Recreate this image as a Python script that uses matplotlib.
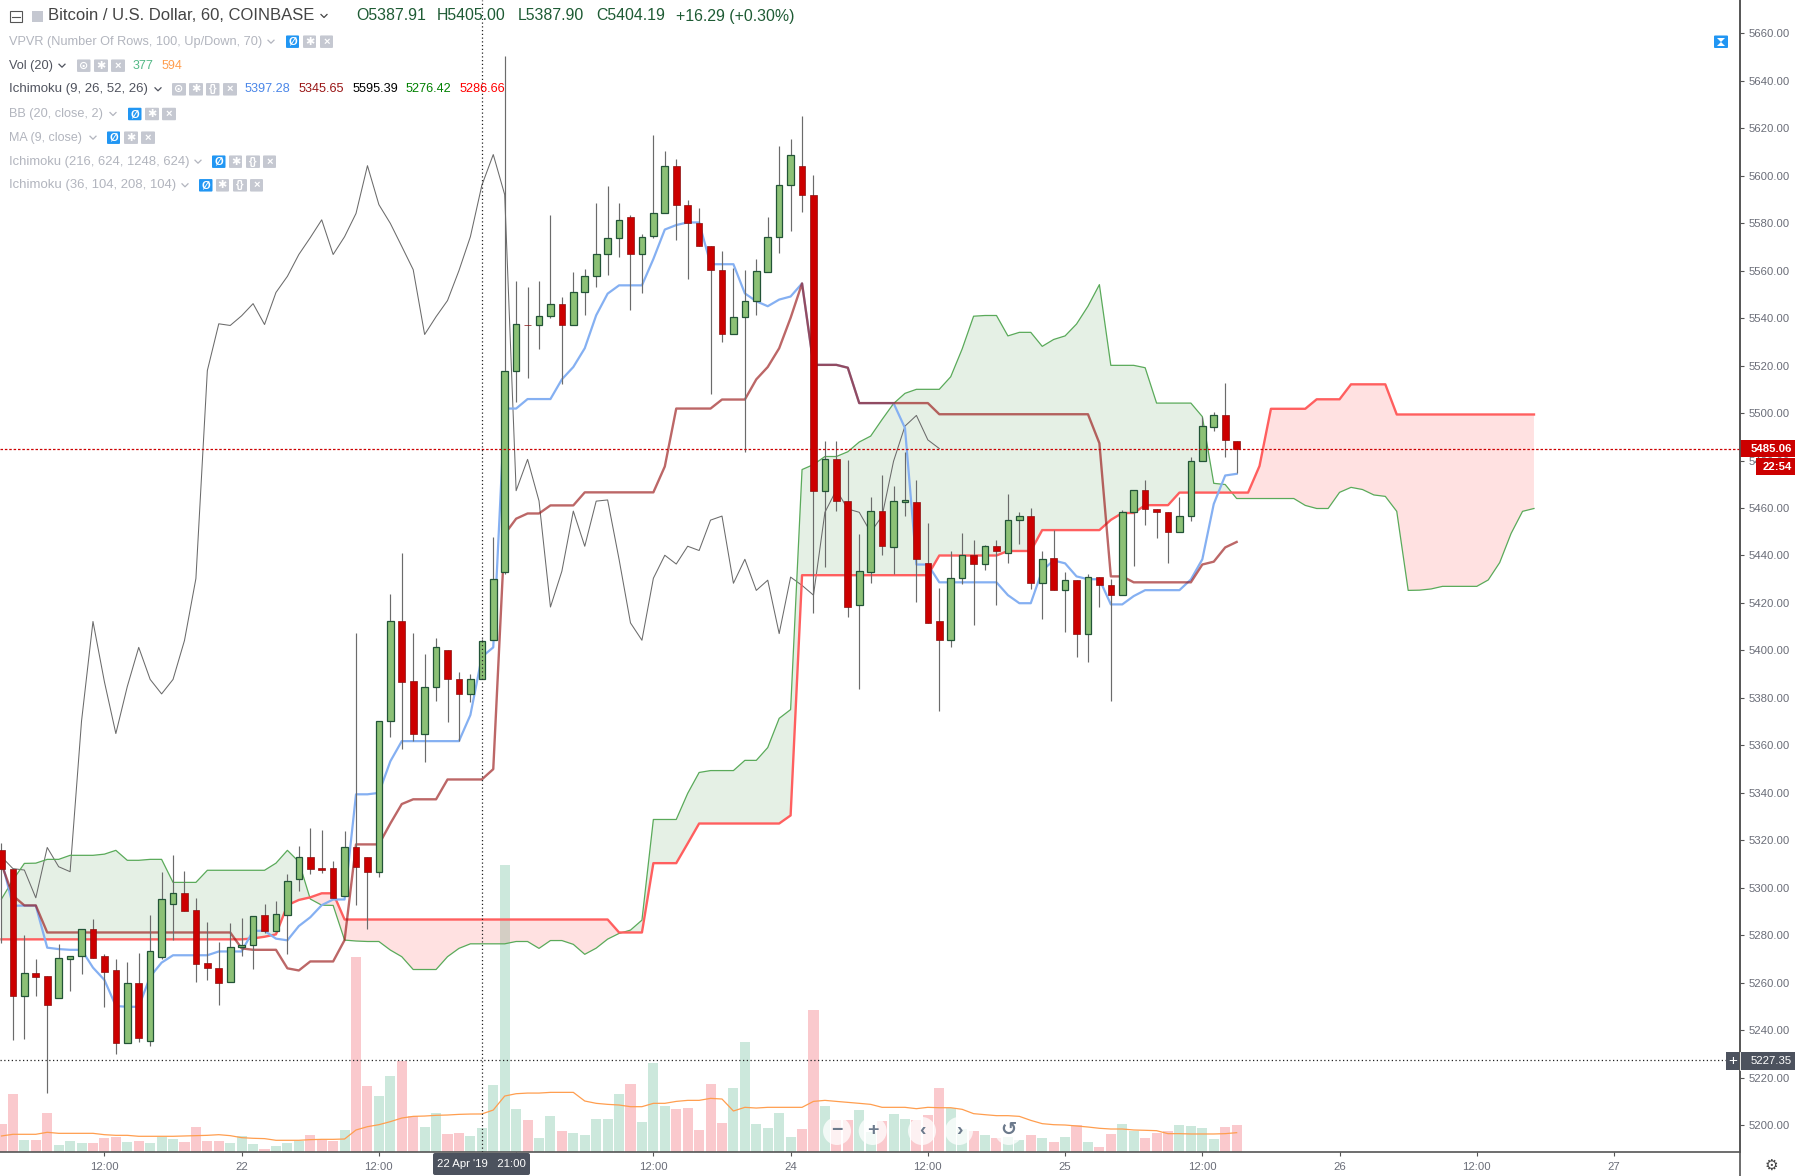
import matplotlib
matplotlib.use("Agg")
import matplotlib.pyplot as plt
import numpy as np
from matplotlib.patches import FancyBboxPatch, Rectangle, Ellipse

plt.rcParams['font.family'] = ['Liberation Sans', 'DejaVu Sans']

# hours since 22 Apr 00:00, one candle per hour
first_hour = -21

opens = [5315.9, 5307.8, 5254.6, 5264.0, 5262.7, 5253.7, 5270.1, 5271.4, 5282.5, 5271.1,
         5265.6, 5234.8, 5259.8, 5235.6, 5271.0, 5293.4, 5297.7, 5290.5, 5268.2, 5266.1,
         5260.2, 5274.9, 5276.0, 5288.4, 5281.9, 5288.7, 5303.8, 5313.2, 5308.2, 5308.2,
         5296.7, 5317.0, 5313.2, 5306.8, 5370.1, 5412.2, 5387.0, 5365.0, 5384.8, 5400.4,
         5387.8, 5381.7, 5387.91, 5404.2, 5432.9, 5517.9, 5537.2, 5536.9, 5541.0, 5546.1,
         5537.3, 5550.8, 5557.6, 5566.8, 5573.9, 5582.4, 5566.8, 5574.7, 5584.1, 5604.2,
         5587.8, 5579.9, 5570.2, 5560.4, 5533.1, 5540.6, 5547.0, 5559.3, 5574.3, 5595.9,
         5604.2, 5592.0, 5467.3, 5480.5, 5462.9, 5419.1, 5432.9, 5458.7, 5443.4, 5462.7,
         5462.4, 5436.8, 5412.5, 5404.3, 5430.4, 5440.1, 5436.4, 5443.9, 5441.1, 5454.9,
         5456.6, 5428.3, 5438.9, 5425.3, 5429.6, 5407.1, 5430.9, 5427.4, 5423.3, 5458.2,
         5467.6, 5459.6, 5458.2, 5449.8, 5456.6, 5479.7, 5494.0, 5499.0, 5488.2]
highs = [5318.7, 5307.8, 5280.1, 5270.0, 5262.7, 5276.3, 5271.5, 5282.5, 5286.9, 5272.1,
         5270.0, 5268.7, 5272.7, 5288.5, 5306.5, 5313.8, 5307.1, 5295.7, 5285.6, 5277.0,
         5285.0, 5287.3, 5288.3, 5293.4, 5294.3, 5305.7, 5317.6, 5325.2, 5324.3, 5311.3,
         5323.8, 5407.5, 5313.2, 5370.3, 5423.7, 5441.0, 5407.5, 5398.7, 5405.1, 5400.4,
         5391.0, 5390.0, 5405.0, 5447.9, 5650.5, 5555.7, 5553.1, 5555.7, 5583.3, 5548.9,
         5559.4, 5560.6, 5588.4, 5595.5, 5588.4, 5583.3, 5575.4, 5617.2, 5610.4, 5607.0,
         5589.7, 5586.3, 5570.2, 5568.3, 5561.1, 5560.2, 5564.9, 5582.8, 5612.5, 5615.5,
         5625.1, 5600.2, 5488.4, 5488.4, 5480.4, 5449.0, 5464.5, 5474.0, 5469.2, 5483.7,
         5472.0, 5453.7, 5426.3, 5441.8, 5449.6, 5446.6, 5444.6, 5446.6, 5466.1, 5458.4,
         5460.0, 5441.9, 5450.7, 5433.1, 5429.6, 5432.1, 5430.9, 5430.1, 5459.1, 5467.6,
         5472.0, 5459.6, 5458.2, 5464.5, 5481.6, 5498.2, 5500.4, 5512.7, 5488.2]
lows = [5276.6, 5235.9, 5236.4, 5254.4, 5213.7, 5253.7, 5256.7, 5263.7, 5270.6, 5249.9,
        5230.0, 5234.8, 5235.2, 5233.4, 5270.1, 5278.0, 5290.4, 5260.5, 5261.2, 5250.6,
        5260.2, 5271.4, 5265.8, 5281.1, 5281.9, 5272.1, 5298.6, 5305.8, 5306.4, 5295.8,
        5296.7, 5292.7, 5282.6, 5304.7, 5363.7, 5358.6, 5361.8, 5353.0, 5378.9, 5369.9,
        5361.8, 5378.4, 5387.9, 5404.2, 5432.0, 5504.7, 5514.7, 5526.9, 5540.1, 5512.3,
        5537.3, 5541.2, 5553.2, 5558.1, 5565.7, 5543.5, 5550.6, 5573.9, 5584.1, 5572.8,
        5556.4, 5570.2, 5508.1, 5530.1, 5533.1, 5483.7, 5541.2, 5559.3, 5567.3, 5576.7,
        5584.8, 5415.6, 5435.2, 5458.7, 5414.3, 5383.8, 5428.3, 5440.4, 5432.4, 5456.7,
        5420.4, 5411.6, 5374.3, 5401.3, 5427.8, 5410.8, 5434.1, 5419.3, 5436.8, 5445.0,
        5425.8, 5413.3, 5425.3, 5407.6, 5397.1, 5395.0, 5418.4, 5378.8, 5423.3, 5435.4,
        5452.9, 5447.3, 5436.8, 5449.8, 5454.6, 5479.7, 5492.4, 5481.7, 5474.6]
closes = [5307.8, 5254.6, 5264.0, 5262.6, 5250.8, 5270.3, 5271.5, 5282.5, 5270.6, 5264.7,
          5234.8, 5259.8, 5236.9, 5273.6, 5295.1, 5297.7, 5290.4, 5268.0, 5266.4, 5260.0,
          5274.9, 5276.0, 5288.3, 5281.9, 5288.8, 5302.7, 5313.1, 5308.1, 5307.5, 5295.8,
          5317.0, 5308.9, 5306.8, 5370.3, 5412.2, 5386.8, 5365.0, 5384.8, 5401.3, 5387.8,
          5381.7, 5387.8, 5404.19, 5430.3, 5517.9, 5537.6, 5536.9, 5541.0, 5546.1, 5537.3,
          5550.8, 5557.6, 5566.8, 5573.9, 5581.4, 5566.8, 5574.3, 5584.1, 5604.2, 5587.8,
          5579.9, 5570.2, 5560.4, 5533.1, 5540.6, 5547.4, 5560.0, 5574.3, 5595.9, 5608.9,
          5592.0, 5467.3, 5480.5, 5463.0, 5418.3, 5433.4, 5458.7, 5443.9, 5462.9, 5463.4,
          5438.4, 5411.6, 5404.3, 5430.4, 5440.1, 5436.4, 5443.9, 5442.1, 5454.9, 5456.6,
          5428.3, 5438.4, 5425.3, 5429.6, 5407.1, 5430.9, 5427.4, 5423.3, 5458.2, 5467.6,
          5459.6, 5458.2, 5449.8, 5456.6, 5479.7, 5494.5, 5499.0, 5488.7, 5485.06]

volumes = [439, 903, 191, 191, 609, 114, 175, 144, 144, 217,
           237, 160, 175, 144, 237, 206, 160, 392, 175, 175,
           144, 253, 129, 52, 98, 144, 175, 268, 191, 175,
           346, 3024, 1027, 872, 1182, 1414, 562, 392, 609, 284,
           299, 253, 377, 1042, 4448, 671, 501, 222, 562, 330,
           299, 268, 516, 516, 903, 1058, 470, 1383, 717, 671,
           686, 346, 1058, 454, 996, 1708, 439, 377, 609, 237,
           361, 2203, 717, 500, 500, 655, 320, 485, 593, 516,
           500, 578, 991, 686, 366, 325, 263, 217, 237, 186,
           263, 217, 155, 232, 418, 155, 77, 279, 433, 325,
           217, 294, 325, 418, 402, 372, 201, 387, 418]
volume_ma = [253, 279, 279, 279, 310, 294, 294, 294, 294, 273,
             263, 263, 248, 248, 248, 248, 253, 258, 263, 273,
             258, 227, 217, 212, 186, 186, 186, 196, 201, 201,
             206, 346, 397, 428, 475, 531, 557, 562, 573, 578,
             588, 593, 594, 655, 872, 908, 918, 918, 929, 929,
             929, 795, 759, 743, 733, 707, 707, 759, 759, 789,
             805, 805, 836, 826, 640, 697, 686, 697, 697, 697,
             697, 789, 805, 789, 774, 759, 743, 697, 697, 697,
             676, 697, 691, 691, 666, 599, 583, 568, 568, 557,
             495, 444, 428, 423, 408, 392, 372, 361, 361, 346,
             341, 335, 289, 289, 284, 284, 284, 289, 304]

tenkan = [5311.7, 5292.5, 5292.5, 5292.5, 5274.8, 5274.2, 5273.9, 5273.9, 5266.4, 5261.2,
          5250.2, 5249.9, 5249.9, 5262.6, 5268.5, 5271.6, 5271.6, 5271.6, 5271.6, 5273.2,
          5273.2, 5273.2, 5281.9, 5281.9, 5278.6, 5277.9, 5283.9, 5287.6, 5292.7, 5295.1,
          5295.1, 5339.4, 5339.4, 5340.0, 5353.3, 5361.8, 5361.8, 5361.8, 5361.8, 5361.8,
          5361.8, 5372.8, 5397.28, 5401.3, 5501.9, 5501.9, 5505.9, 5505.9, 5505.9, 5514.2,
          5519.4, 5527.3, 5541.2, 5550.3, 5553.8, 5553.8, 5553.8, 5564.9, 5577.3, 5579.2,
          5580.3, 5580.3, 5562.7, 5562.7, 5562.7, 5550.4, 5547.1, 5545.0, 5547.8, 5549.1,
          5554.6, 5520.3, 5520.3, 5520.3, 5519.1, 5504.2, 5504.2, 5504.2, 5504.2, 5493.7,
          5436.2, 5436.2, 5428.7, 5428.7, 5428.7, 5428.7, 5428.7, 5428.7, 5423.3, 5419.9,
          5419.9, 5433.7, 5437.9, 5436.7, 5431.2, 5430.0, 5430.0, 5419.4, 5419.4, 5422.9,
          5425.4, 5425.4, 5425.4, 5425.4, 5429.9, 5438.4, 5461.7, 5473.7, 5474.4]
kijun = [5310.0, 5296.7, 5292.6, 5292.6, 5281.2, 5281.2, 5281.2, 5281.2, 5281.2, 5281.2,
         5281.2, 5281.2, 5281.2, 5281.2, 5281.2, 5281.2, 5281.2, 5281.2, 5281.2, 5281.2,
         5281.2, 5274.5, 5273.9, 5273.9, 5273.9, 5266.1, 5265.2, 5269.0, 5269.0, 5269.0,
         5278.0, 5318.3, 5318.3, 5318.3, 5327.1, 5335.3, 5337.3, 5337.3, 5337.3, 5345.65,
         5345.65, 5345.65, 5345.65, 5350.0, 5449.0, 5455.5, 5457.7, 5457.7, 5461.1, 5461.1,
         5461.1, 5466.6, 5466.6, 5466.6, 5466.6, 5466.6, 5466.6, 5466.6, 5477.5, 5501.9,
         5501.9, 5501.9, 5501.9, 5505.7, 5505.7, 5505.7, 5514.2, 5519.4, 5527.3, 5540.1,
         5554.6, 5520.3, 5520.3, 5520.3, 5519.1, 5504.2, 5504.2, 5504.2, 5504.2, 5504.2,
         5504.2, 5504.2, 5499.5, 5499.5, 5499.5, 5499.5, 5499.5, 5499.5, 5499.5, 5499.5,
         5499.5, 5499.5, 5499.5, 5499.5, 5499.5, 5499.5, 5487.3, 5431.2, 5431.2, 5428.7,
         5428.7, 5428.7, 5428.7, 5428.7, 5428.7, 5436.2, 5437.4, 5443.4, 5445.7]

# both cloud lines run 26 hours past the last candle
senkou_a = [5295.3, 5303.3, 5310.3, 5310.4, 5312.0, 5312.0, 5313.7, 5313.7, 5313.7, 5314.2,
            5315.8, 5311.6, 5311.6, 5312.0, 5312.0, 5302.3, 5302.3, 5302.3, 5307.4, 5307.4,
            5307.4, 5307.4, 5307.4, 5307.4, 5310.4, 5315.8, 5311.0, 5295.3, 5292.7, 5292.6,
            5278.0, 5277.6, 5277.4, 5277.4, 5273.8, 5271.0, 5265.6, 5265.6, 5265.6, 5271.0,
            5274.5, 5276.42, 5276.42, 5276.42, 5276.42, 5277.4, 5277.4, 5274.5, 5277.8, 5277.8,
            5276.2, 5272.0, 5274.6, 5278.4, 5280.8, 5282.2, 5286.4, 5328.8, 5328.8, 5328.8,
            5339.8, 5348.6, 5349.4, 5349.4, 5349.4, 5353.7, 5353.7, 5359.1, 5371.4, 5375.1,
            5476.2, 5478.3, 5481.7, 5481.7, 5483.7, 5487.8, 5490.3, 5497.3, 5504.0, 5508.3,
            5510.0, 5510.0, 5510.0, 5515.3, 5527.0, 5540.8, 5541.1, 5541.1, 5532.5, 5534.0,
            5534.0, 5528.1, 5531.0, 5532.5, 5537.5, 5545.0, 5554.1, 5520.1, 5520.1, 5520.1,
            5519.1, 5504.2, 5504.2, 5504.2, 5504.2, 5498.5, 5470.4, 5469.9, 5464.0, 5464.0,
            5464.0, 5464.0, 5464.0, 5464.0, 5461.1, 5459.8, 5459.8, 5466.6, 5468.7, 5467.8,
            5465.5, 5464.9, 5458.6, 5425.3, 5425.4, 5425.9, 5427.0, 5427.0, 5427.0, 5427.0,
            5429.7, 5437.0, 5449.3, 5458.6, 5459.8]
senkou_b = [5278.3, 5278.3, 5278.3, 5278.3, 5278.3, 5278.3, 5278.3, 5278.3, 5278.3, 5278.3,
            5278.3, 5278.3, 5278.3, 5278.3, 5278.3, 5278.3, 5278.3, 5278.3, 5278.3, 5278.3,
            5278.3, 5278.3, 5278.7, 5279.4, 5280.4, 5292.7, 5294.9, 5296.0, 5297.7, 5297.7,
            5286.66, 5286.66, 5286.66, 5286.66, 5286.66, 5286.66, 5286.66, 5286.66, 5286.66, 5286.66,
            5286.66, 5286.66, 5286.66, 5286.66, 5286.66, 5286.66, 5286.66, 5286.66, 5286.66, 5286.66,
            5286.66, 5286.66, 5286.66, 5286.66, 5281.2, 5281.2, 5281.2, 5310.4, 5310.4, 5310.4,
            5318.7, 5327.1, 5327.1, 5327.1, 5327.1, 5327.1, 5327.1, 5327.1, 5327.1, 5330.5,
            5431.7, 5431.7, 5431.7, 5431.7, 5431.7, 5431.7, 5431.7, 5431.7, 5431.7, 5431.7,
            5431.7, 5431.7, 5440.0, 5440.0, 5440.0, 5440.0, 5440.0, 5440.0, 5441.9, 5441.9,
            5441.9, 5450.7, 5450.7, 5450.7, 5450.7, 5450.7, 5450.7, 5455.0, 5457.9, 5457.9,
            5461.2, 5461.2, 5461.2, 5466.5, 5466.5, 5466.5, 5466.5, 5466.5, 5466.5, 5466.5,
            5477.7, 5501.8, 5501.8, 5501.8, 5501.8, 5505.8, 5505.8, 5505.8, 5512.1, 5512.1,
            5512.1, 5512.1, 5499.4, 5499.4, 5499.4, 5499.4, 5499.4, 5499.4, 5499.4, 5499.4,
            5499.4, 5499.4, 5499.4, 5499.4, 5499.4]

price_ticks = list(range(5200, 5661, 20))
# the 23 Apr label sits under the crosshair box in the reference
time_ticks = [-12, 0, 12, 24, 36, 48, 60, 72, 84, 96, 108, 120]
time_labels = ['12:00', '22', '12:00', '', '12:00', '24', '12:00', '25', '12:00', '26', '12:00', '27']

last_price = 5485.06
cross_price = 5227.35
cross_hour = 21

W, H = 1795, 1176
AXIS_X, AXIS_Y = 1740.3, 1152.3
GREY_TEXT = '#b2b5be'
DARK_TEXT = '#50535e'
UP_FILL, UP_EDGE = '#8cc176', '#225437'
DOWN_FILL, DOWN_EDGE = '#cc0000', '#8a1010'

fig = plt.figure(figsize=(W / 100, H / 100), dpi=100, facecolor='white')
ax = fig.add_axes([0, (H - AXIS_Y) / H, AXIS_X / W, AXIS_Y / H])
ax.set_xlim(-21.13, 131.04)
ax.set_ylim(5188.6, 5674.0)

hours = np.arange(first_hour, first_hour + len(closes))
span_hours = np.arange(first_hour, first_hour + len(senkou_a))
o, h, l, c = map(np.array, (opens, highs, lows, closes))
a, b = np.array(senkou_a), np.array(senkou_b)
up = c >= o

# volume on its own scale, along the bottom of the pane
vol_ax = ax.twinx()
vol_ax.set_ylim(0, AXIS_Y * 15.5)
vol_ax.axis('off')
vol_ax.set_zorder(0)
ax.set_zorder(1)
ax.patch.set_visible(False)
vol_ax.bar(hours, volumes, width=0.88, color=np.where(up, '#cce8dc', '#fac9cd'), linewidth=0)
vol_ax.plot(hours, volume_ma, color='#ff9e4f', lw=0.9)

# cloud
ax.fill_between(span_hours, a, b, where=a >= b, interpolate=True, color='#388e3c', alpha=0.13, lw=0, zorder=1)
ax.fill_between(span_hours, a, b, where=a < b, interpolate=True, color='#ff5252', alpha=0.17, lw=0, zorder=1)

# chikou is the close drawn 26 hours back
ax.plot(hours[:-26], closes[26:], color='#6b6b6b', lw=0.75, zorder=2)
ax.plot(span_hours, a, color='#5aaa5a', lw=0.9, zorder=2)
ax.plot(span_hours, b, color='#ff5f5f', lw=1.7, zorder=2)
ax.plot(hours, tenkan, color='#85b0f2', lw=1.6, zorder=3)
ax.plot(hours, kijun, color='#991515', alpha=0.65, lw=1.7, zorder=3)

# candles
ax.vlines(hours, l, h, color='#6b6b6b', lw=0.85, zorder=4)
body_low = np.minimum(o, c)
body_h = np.abs(c - o)
ax.bar(hours[up], body_h[up], bottom=body_low[up], width=0.58, color=UP_FILL, edgecolor=UP_EDGE, lw=0.9, zorder=5)
ax.bar(hours[~up], body_h[~up], bottom=body_low[~up], width=0.58, color=DOWN_FILL, edgecolor=DOWN_EDGE, lw=0.5, zorder=5)

# price line and crosshair
ax.axhline(last_price, color='#cc0000', lw=0.9, ls=(0, (2, 1.5)), zorder=6)
ax.axhline(cross_price, color='#222222', lw=0.9, ls=(0, (1, 2)), zorder=6)
ax.axvline(cross_hour, color='#222222', lw=0.9, ls=(0, (1, 2)), zorder=6)

# axes
for side in ('top', 'left'):
    ax.spines[side].set_visible(False)
for side in ('right', 'bottom'):
    ax.spines[side].set_color('#555555')
    ax.spines[side].set_linewidth(1.2)
ax.yaxis.tick_right()
ax.set_yticks(price_ticks)
ax.set_yticklabels([f'{p:.2f}' for p in price_ticks])
ax.set_xticks(time_ticks)
ax.set_xticklabels(time_labels)
ax.tick_params(axis='y', length=3.2, width=0.8, color='#555555', labelcolor='#6a6d78', labelsize=8.2, pad=3)
ax.tick_params(axis='x', length=3.2, width=0.8, color='#555555', labelcolor='#6a6d78', labelsize=8.2, pad=3.5)

# everything around the chart is laid out in pixels on a top layer
ui = fig.add_axes([0, 0, 1, 1], zorder=10)
ui.set_xlim(0, W)
ui.set_ylim(H, 0)
ui.axis('off')
ui.patch.set_visible(False)
ui.plot([AXIS_X, AXIS_X], [0, H], color='#555555', lw=1.2)


def icon(x0, x1, yc, face, glyph=None):
    size = 12.5
    ui.add_patch(FancyBboxPatch((x0 + 1, yc - size / 2 + 1), x1 - x0 - 2, size - 2,
                                boxstyle='round,pad=1', fc=face, ec='none'))
    if glyph:
        ui.text((x0 + x1) / 2, yc, glyph, color='white', ha='center', va='center',
                fontsize=8, fontweight='bold')


def chevron(x, yc, color):
    ui.plot([x - 3, x, x + 3], [yc - 1.5, yc + 1.5, yc - 1.5], color=color, lw=0.9)


def row(yc, label, color, chev, icons, size=9.2):
    ui.text(9, yc, label, color=color, fontsize=size, va='center')
    chevron(chev, yc, color)
    for x0, x1, face, glyph in icons:
        icon(x0, x1, yc, face, glyph)


BLUE, GREY = '#2196f3', '#c5c8d1'
row(41.7, 'VPVR (Number Of Rows, 100, Up/Down, 70)', GREY_TEXT, 271,
    [(286, 299, BLUE, 'Ø'), (303, 316, GREY, '✱'), (320, 333, GREY, '×')])
row(65.7, 'Vol (20)', DARK_TEXT, 62,
    [(77, 90.5, GREY, '⊙'), (94, 108, GREY, '✱'), (111, 125, GREY, '×')])
row(89.3, 'Ichimoku (9, 26, 52, 26)', DARK_TEXT, 158,
    [(172, 186, GREY, '⊙'), (189, 203, GREY, '✱'), (206, 219.5, GREY, '{}'), (223, 237, GREY, '×')], 9.55)
row(114, 'BB (20, close, 2)', GREY_TEXT, 113,
    [(128, 141.5, BLUE, 'Ø'), (145, 159, GREY, '✱'), (162, 176, GREY, '×')])
row(137.7, 'MA (9, close)', GREY_TEXT, 93,
    [(107, 120, BLUE, 'Ø'), (124, 138, GREY, '✱'), (141, 155, GREY, '×')], 9.0)
row(161.7, 'Ichimoku (216, 624, 1248, 624)', GREY_TEXT, 198,
    [(212, 225.5, BLUE, 'Ø'), (229, 242, GREY, '✱'), (246, 260, GREY, '{}'), (263, 276, GREY, '×')], 9.4)
row(185.3, 'Ichimoku (36, 104, 208, 104)', GREY_TEXT, 185,
    [(199, 212.5, BLUE, 'Ø'), (216, 229, GREY, '✱'), (233, 247, GREY, '{}'), (250, 263, GREY, '×')], 9.45)

ui.text(133, 65.7, '377', color='#53b987', fontsize=9, va='center')
ui.text(161.5, 65.7, '594', color='#ff9e4f', fontsize=9, va='center')
for x, val, col in [(244.4, '5397.28', '#4a86e8'), (298.6, '5345.65', '#991515'),
                    (352.3, '5595.39', '#000000'), (406, '5276.42', '#008000'),
                    (459.6, '5286.66', '#ff0000')]:
    ui.text(x, 89.3, val, color=col, fontsize=9.1, va='center')

# header
ui.add_patch(Rectangle((9.5, 11), 12, 11, fc='white', ec='#555555', lw=0.8))
ui.plot([12, 19.5], [16.5, 16.5], color='#555555', lw=0.8)
ui.add_patch(Rectangle((32, 11), 11, 11, fc='#c5c8d1', ec='none'))
ui.text(48, 16, 'Bitcoin / U.S. Dollar, 60, COINBASE', color='#444444', fontsize=12, va='center')
chevron(324, 16, '#444444')
for x, s in [(356, 'O5387.91'), (437, 'H5405.00'), (518, 'L5387.90'), (596, 'C5404.19'), (676, '+16.29 (+0.30%)')]:
    ui.text(x, 16, s, color='#1e5b34', fontsize=11.4, va='center')

# scale labels
ui.add_patch(Rectangle((AXIS_X, 440), W - AXIS_X, 16.5, fc='#cc0000', ec='none'))
ui.text(1792, 448.5, '5485.06', color='white', fontsize=8.2, fontweight='bold', ha='right', va='center')
ui.add_patch(Rectangle((1755.7, 458), W - 1755.7, 17, fc='#cc0000', ec='none'))
ui.text(1792, 466.5, '22:54', color='white', fontsize=8.2, fontweight='bold', ha='right', va='center')
ui.add_patch(Rectangle((1726, 1052), W - 1726, 17.5, fc='#4c525e', ec='none'))
ui.text(1733, 1060.5, '+', color='white', fontsize=11, ha='center', va='center')
ui.plot([1740.3, 1740.3], [1052, 1069.5], color='white', lw=0.6)
ui.text(1792, 1060.5, '5227.35', color='white', fontsize=8.2, ha='right', va='center')
ui.add_patch(FancyBboxPatch((435, 1155), 93, 18, boxstyle='round,pad=2', fc='#4c525e', ec='none'))
ui.text(481.5, 1164, "22 Apr '19   21:00", color='white', fontsize=8.2, ha='center', va='center')

# blue toggle at the top right
ui.add_patch(FancyBboxPatch((1715, 36.5), 12, 10.5, boxstyle='round,pad=1', fc='#2196f3', ec='none'))
ui.fill([1717, 1725, 1721], [38, 38, 42], color='white', lw=0)
ui.fill([1717, 1725, 1721], [46, 46, 42], color='white', lw=0)

# zoom and scroll buttons
for x, glyph in [(837, '−'), (872.7, '+'), (922, '‹'), (959, '›'), (1008.7, '↺')]:
    ui.add_patch(Ellipse((x, 1131), 28, 28, fc='white', ec='none', alpha=0.75))
    ui.text(x, 1130, glyph, color='#6c7a8c', fontsize=14, ha='center', va='center', fontweight='bold')

ui.text(1771.7, 1165.5, '⚙', color='#444444', fontsize=11, ha='center', va='center')

fig.savefig('out.png', dpi=100)
